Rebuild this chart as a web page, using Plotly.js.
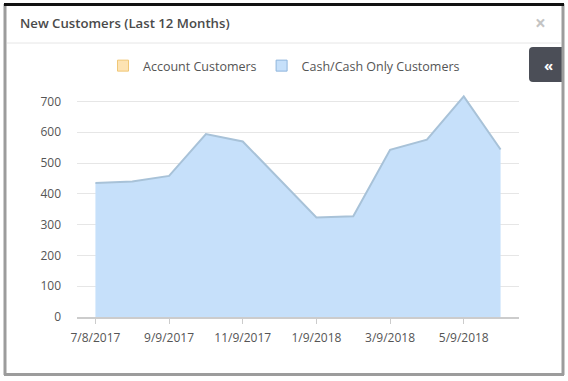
<!DOCTYPE html>
<html>
<head>
<meta charset="utf-8">
<script src="https://cdn.plot.ly/plotly-3.0.1.min.js"></script>
<style>
  html, body { margin: 0; padding: 0; background: #fff; }
  #chart { width: 568px; height: 381px; }
</style>
</head>
<body>
<div id="chart"></div>
<script>
// ---- data ----
const months = ["7/8/2017", "8/9/2017", "9/9/2017", "10/9/2017", "11/9/2017", "12/9/2017",
                "1/9/2018", "2/9/2018", "3/9/2018", "4/9/2018", "5/9/2018", "6/9/2018"];
const accountCustomers = [0, 0, 0, 0, 0, 0, 0, 0, 0, 0, 0, 0];
const cashCustomers = [435, 440, 458, 594, 570, 447, 323, 327, 543, 576, 716, 544];
const tickLabels = ["7/8/2017", "9/9/2017", "11/9/2017", "1/9/2018", "3/9/2018", "5/9/2018"];
const seriesNames = ["Account Customers", "Cash/Cash Only Customers"];

// ---- geometry helpers (pixel -> paper) ----
const W = 568, H = 381;
const L = 77, R = 49, T = 86, B = 64;
const pw = W - L - R, ph = H - T - B;
const px = x => (x - L) / pw;
const py = y => (H - B - y) / ph;

const font = "'Open Sans', 'Noto Sans', sans-serif";

const traces = [
  {
    x: months, y: accountCustomers, name: seriesNames[0],
    type: "scatter", mode: "lines", stackgroup: "one",
    line: { color: "#f3c97a", width: 0 }, fillcolor: "rgba(253,227,176,0.9)",
    showlegend: false, hoverinfo: "skip"
  },
  {
    x: months, y: cashCustomers, name: seriesNames[1],
    type: "scatter", mode: "lines", stackgroup: "one",
    line: { color: "#a8c2d8", width: 2 }, fillcolor: "#c6e0fa",
    showlegend: false
  },
  // legend swatches
  {
    x: [null], y: [null], name: seriesNames[0], type: "scatter", mode: "markers",
    marker: { symbol: "square", size: 11, color: "#fde3b3", line: { color: "#f0c777", width: 1 } }
  },
  {
    x: [null], y: [null], name: seriesNames[1], type: "scatter", mode: "markers",
    marker: { symbol: "square", size: 11, color: "#c6e0fa", line: { color: "#8fb5dc", width: 1 } }
  }
];

const shapes = [
  // header separator
  { type: "line", xref: "paper", yref: "paper", x0: px(7), x1: px(561), y0: py(43), y1: py(43),
    line: { color: "#e6e6e6", width: 1 } },
  // right tab
  { type: "path", xref: "paper", yref: "paper",
    path: `M ${px(562)} ${py(47)} L ${px(533)} ${py(47)} Q ${px(529)} ${py(47)} ${px(529)} ${py(51)} ` +
          `L ${px(529)} ${py(78)} Q ${px(529)} ${py(82)} ${px(533)} ${py(82)} L ${px(562)} ${py(82)} Z`,
    fillcolor: "#4b4e57", line: { width: 0 } },
  // frame
  { type: "line", xref: "paper", yref: "paper", x0: px(5), x1: px(5), y0: py(4), y1: py(375),
    line: { color: "#9c9c9c", width: 3 } },
  { type: "line", xref: "paper", yref: "paper", x0: px(563), x1: px(563), y0: py(4), y1: py(375),
    line: { color: "#9c9c9c", width: 3 } },
  { type: "line", xref: "paper", yref: "paper", x0: px(4), x1: px(564), y0: py(374.5), y1: py(374.5),
    line: { color: "#9c9c9c", width: 3 } },
  { type: "line", xref: "paper", yref: "paper", x0: px(4), x1: px(564), y0: py(4.5), y1: py(4.5),
    line: { color: "#111111", width: 3 } }
];

const annotations = [
  { text: "×", xref: "paper", yref: "paper", x: px(540), y: py(23), xanchor: "center", yanchor: "middle",
    showarrow: false, font: { family: font, size: 19, color: "#c4c4c4", weight: 700 } },
  { text: "«", xref: "paper", yref: "paper", x: px(548), y: py(65), xanchor: "center", yanchor: "middle",
    showarrow: false, font: { family: font, size: 15, color: "#ffffff", weight: 700 } }
];

const layout = {
  width: W, height: H,
  margin: { l: L, r: R, t: T, b: B, pad: 0 },
  paper_bgcolor: "#ffffff", plot_bgcolor: "#ffffff",
  font: { family: font, size: 12, color: "#555555" },
  title: {
    text: "New Customers (Last 12 Months)",
    xref: "container", yref: "container",
    x: 20 / W, y: 1 - 23 / H, xanchor: "left", yanchor: "middle",
    font: { family: font, size: 13.2, color: "#4a4a4a", weight: 600 }
  },
  showlegend: true,
  legend: {
    orientation: "h", traceorder: "normal",
    x: px(284), y: py(66), xanchor: "center", yanchor: "middle",
    font: { family: font, size: 12.5, color: "#555555" },
    itemwidth: 30, bgcolor: "rgba(0,0,0,0)"
  },
  xaxis: {
    type: "category", range: [-0.5, 11.5], fixedrange: true,
    tickmode: "array", tickvals: tickLabels, ticktext: tickLabels,
    ticks: "outside", ticklen: 5, tickcolor: "#cccccc", tickwidth: 1,
    ticklabelstandoff: 4,
    showline: true, linecolor: "#cccccc", linewidth: 2,
    showgrid: false, zeroline: false,
    tickfont: { family: font, size: 12, color: "#555555" }
  },
  yaxis: {
    range: [0, 750], fixedrange: true,
    tickmode: "array", tickvals: [0, 100, 200, 300, 400, 500, 600, 700],
    showgrid: true, gridcolor: "#e6e6e6", gridwidth: 1,
    zeroline: false, showline: false, ticks: "",
    ticklabelstandoff: 15,
    tickfont: { family: font, size: 12, color: "#555555" }
  },
  shapes: shapes,
  annotations: annotations
};

Plotly.newPlot("chart", traces, layout, { displayModeBar: false, staticPlot: true });
</script>
</body>
</html>
